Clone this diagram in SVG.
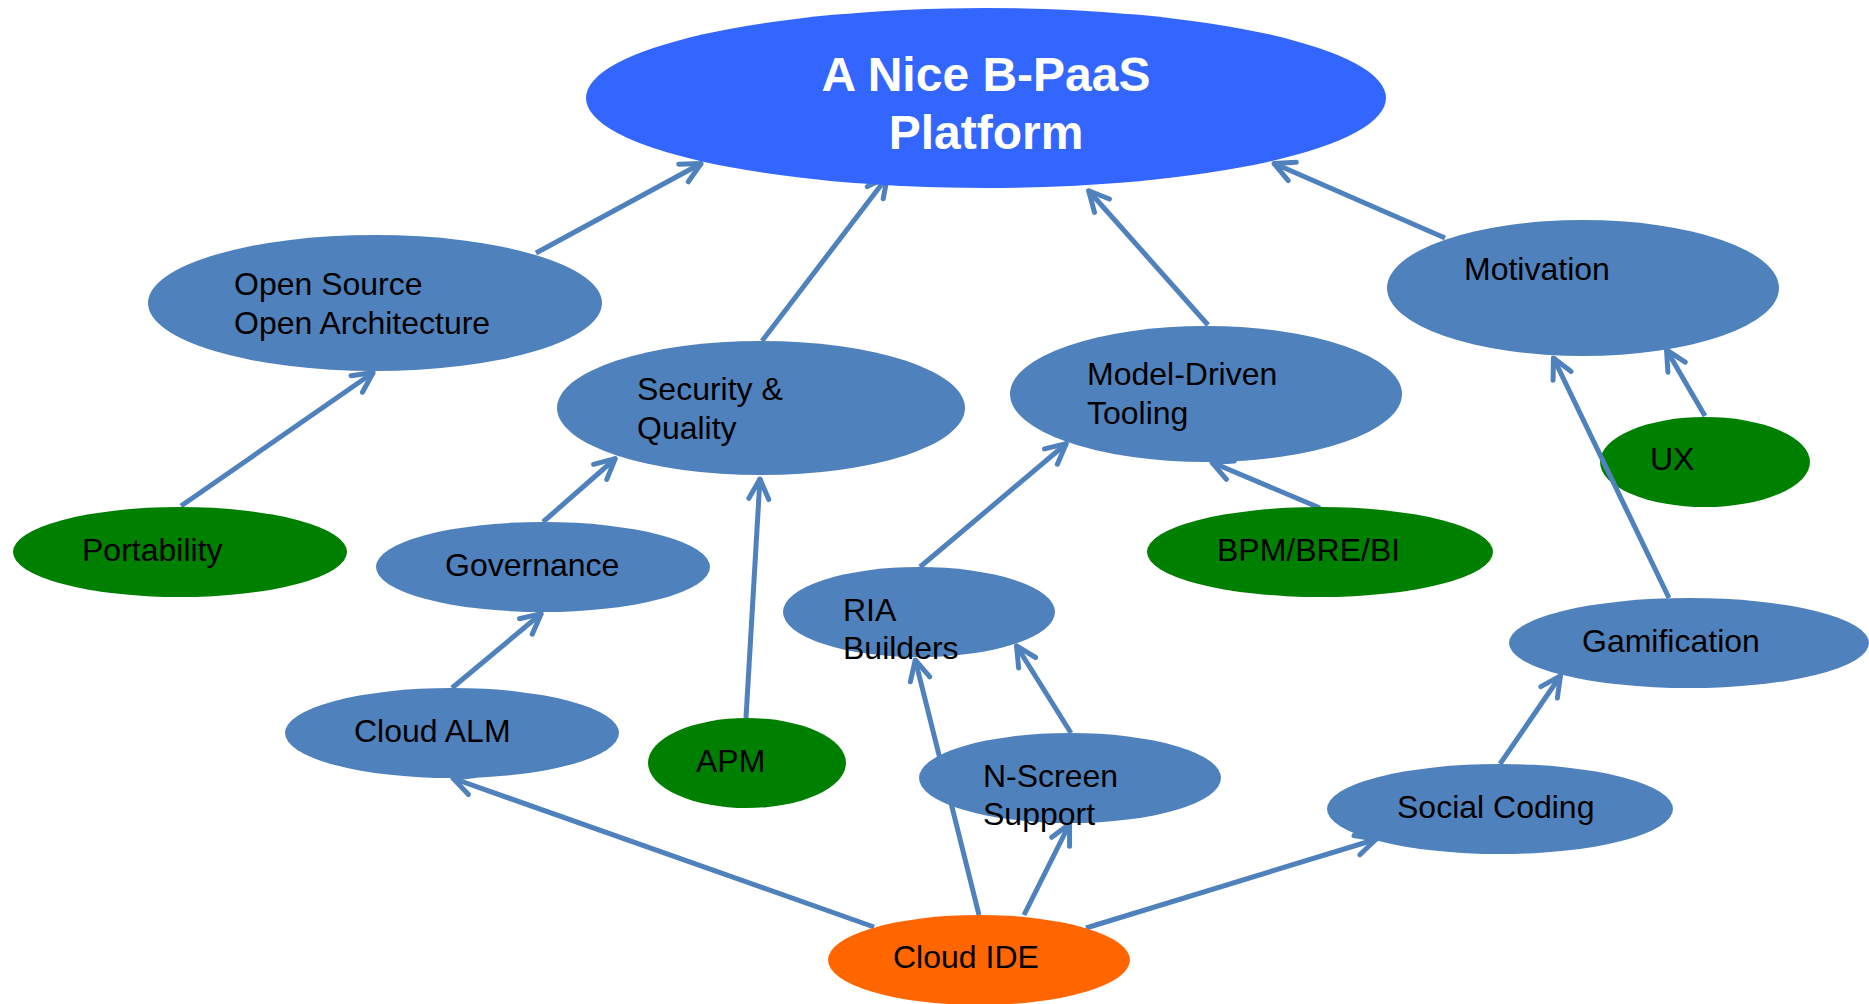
<svg xmlns="http://www.w3.org/2000/svg" width="1869" height="1004" viewBox="0 0 1869 1004">
<style>
.blue{fill:#4F81BD}
.green{fill:#008000}
.lbl{font-family:"Liberation Sans",Arial,sans-serif;font-size:32px;fill:#000}
.title{font-family:"Liberation Sans",Arial,sans-serif;font-size:48px;font-weight:bold;fill:#fff;text-anchor:middle}
.conn line{stroke:#4F81BD;stroke-width:5;fill:none;marker-end:url(#arr)}
</style>
<defs>
<marker id="arr" markerUnits="userSpaceOnUse" viewBox="-28 -16 34 32" markerWidth="34" markerHeight="32" refX="1" refY="0" orient="auto">
<path d="M-20,-10 L0,0 L-20,10" fill="none" stroke="#4F81BD" stroke-width="5" stroke-linecap="round" stroke-linejoin="round"/>
</marker>
</defs>
<rect width="1869" height="1004" fill="#fff"/>
<g id="node-ux"><ellipse class="green" cx="1705" cy="462" rx="105" ry="45"/><text class="lbl" x="1650" y="470">UX</text></g>
<g id="connectors" class="conn">
<line x1="536" y1="253" x2="702" y2="163"/>
<line x1="762" y1="341" x2="888" y2="176"/>
<line x1="1208" y1="325" x2="1088" y2="190"/>
<line x1="1445" y1="238" x2="1273" y2="163"/>
<line x1="181" y1="506" x2="374" y2="372"/>
<line x1="543" y1="522" x2="616" y2="458"/>
<line x1="452" y1="688" x2="542" y2="613"/>
<line x1="746" y1="718" x2="760" y2="478"/>
<line x1="920" y1="567" x2="1067" y2="443"/>
<line x1="1320" y1="508" x2="1211" y2="462"/>
<line x1="874" y1="927" x2="452" y2="778"/>
<line x1="979" y1="915" x2="915" y2="659"/>
<line x1="1024" y1="915" x2="1070" y2="823"/>
<line x1="1071" y1="733" x2="1016" y2="645"/>
<line x1="1086" y1="928" x2="1377" y2="839"/>
<line x1="1500" y1="764" x2="1561" y2="675"/>
<line x1="1669" y1="598" x2="1553" y2="357"/>
<line x1="1705" y1="416" x2="1666" y2="349"/>
</g>
<g id="node-platform"><ellipse cx="986" cy="98" rx="400" ry="90" fill="#3366FF"/><text class="title" x="986" y="91">A Nice B-PaaS</text><text class="title" x="986" y="149">Platform</text></g>
<g id="node-open-source"><ellipse class="blue" cx="375" cy="303" rx="227" ry="68"/><text class="lbl" x="234" y="295">Open Source</text><text class="lbl" x="234" y="334">Open Architecture</text></g>
<g id="node-portability"><ellipse class="green" cx="180" cy="552" rx="167" ry="45"/><text class="lbl" x="82" y="561">Portability</text></g>
<g id="node-governance"><ellipse class="blue" cx="543" cy="567" rx="167" ry="45"/><text class="lbl" x="445" y="576">Governance</text></g>
<g id="node-security"><ellipse class="blue" cx="761" cy="408" rx="204" ry="67"/><text class="lbl" x="637" y="400">Security &amp;</text><text class="lbl" x="637" y="439">Quality</text></g>
<g id="node-model-driven"><ellipse class="blue" cx="1206" cy="394" rx="196" ry="68"/><text class="lbl" x="1087" y="385">Model-Driven</text><text class="lbl" x="1087" y="424">Tooling</text></g>
<g id="node-motivation"><ellipse class="blue" cx="1583" cy="288" rx="196" ry="68"/><text class="lbl" x="1464" y="280">Motivation</text></g>
<g id="node-bpm"><ellipse class="green" cx="1320" cy="552" rx="173" ry="45"/><text class="lbl" x="1217" y="561">BPM/BRE/BI</text></g>
<g id="node-ria"><ellipse class="blue" cx="919" cy="612" rx="136" ry="45"/><text class="lbl" x="843" y="621">RIA</text><text class="lbl" x="843" y="659">Builders</text></g>
<g id="node-cloud-alm"><ellipse class="blue" cx="452" cy="733" rx="167" ry="45"/><text class="lbl" x="354" y="742">Cloud ALM</text></g>
<g id="node-apm"><ellipse class="green" cx="747" cy="763" rx="99" ry="45"/><text class="lbl" x="696" y="772">APM</text></g>
<g id="node-n-screen"><ellipse class="blue" cx="1070" cy="778" rx="151" ry="45"/><text class="lbl" x="983" y="787">N-Screen</text><text class="lbl" x="983" y="825">Support</text></g>
<g id="node-gamification"><ellipse class="blue" cx="1689" cy="643" rx="180" ry="45"/><text class="lbl" x="1582" y="652">Gamification</text></g>
<g id="node-social-coding"><ellipse class="blue" cx="1500" cy="809" rx="173" ry="45"/><text class="lbl" x="1397" y="818">Social Coding</text></g>
<g id="node-cloud-ide"><ellipse cx="979" cy="960" rx="151" ry="45" fill="#FF6600"/><text class="lbl" x="893" y="968">Cloud IDE</text></g>
</svg>
